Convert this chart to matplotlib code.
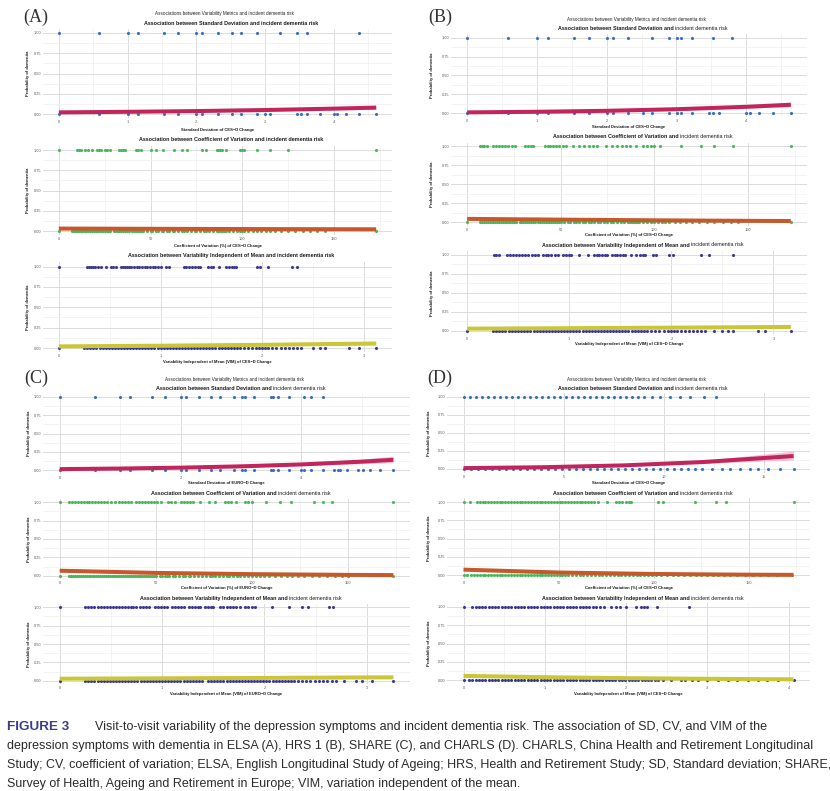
import matplotlib
matplotlib.use("Agg")
import matplotlib.pyplot as plt

# ---------------- data ----------------
# x positions of subjects with dementia (y = 1) and without (y = 0)
A1_x1 = [0, 0.58, 1.0, 1.15, 1.53, 1.73, 2.0, 2.08, 2.31, 2.52, 2.65, 2.88, 3.22, 3.47, 3.61, 4.37]
A1_x0 = [0, 0.58, 1.0, 1.15, 1.53, 1.73, 2.0, 2.08, 2.31, 2.52, 2.65, 2.88, 3.0, 3.07, 3.47, 3.52,
         3.61, 3.8, 4.0, 4.05, 4.18, 4.37, 4.62]
A1_fit_x = [0, 1, 2, 3, 4, 4.62]
A1_fit_y = [0.020, 0.027, 0.036, 0.049, 0.066, 0.079]
A1_fit_lo = [0.012, 0.019, 0.029, 0.040, 0.052, 0.058]
A1_fit_hi = [0.030, 0.036, 0.045, 0.060, 0.084, 0.105]

A2_x1 = [0, 10, 11, 12, 14, 16, 18, 21, 22, 23, 25, 26, 28, 33, 34, 35, 36, 42, 43, 45, 50, 53, 57,
         63, 67, 70, 78, 80, 86, 87, 88, 89, 91, 99, 100, 101, 108, 115, 125, 173]
A2_x0 = [0, 7, 8, 9, 10, 11, 12, 13, 14, 15, 16, 17, 18, 19, 20, 21, 22, 23, 24, 25, 26, 27, 28, 30,
         31, 32, 33, 34, 35, 36, 37, 38, 40, 41, 42, 43, 44, 45, 46, 48, 50, 51, 53, 54, 56, 57, 59,
         60, 62, 63, 65, 67, 68, 70, 72, 74, 75, 77, 79, 80, 82, 84, 86, 87, 88, 89, 90, 91, 93, 95,
         97, 99, 100, 101, 103, 106, 108, 110, 113, 115, 118, 121, 125, 129, 133, 137, 141, 145, 173]
A2_fit_x = [0, 50, 100, 150, 173]
A2_fit_y = [0.030, 0.027, 0.024, 0.022, 0.021]
A2_fit_lo = [0.024, 0.023, 0.019, 0.015, 0.013]
A2_fit_hi = [0.037, 0.032, 0.030, 0.031, 0.032]

A3_x1 = [0, 0.28, 0.30, 0.32, 0.34, 0.36, 0.38, 0.41, 0.46, 0.51, 0.53, 0.56, 0.61, 0.63, 0.65, 0.67,
         0.69, 0.71, 0.74, 0.77, 0.79, 0.82, 0.85, 0.87, 0.90, 0.93, 0.95, 0.97, 1.0, 1.05, 1.08,
         1.23, 1.25, 1.28, 1.31, 1.34, 1.37, 1.39, 1.47, 1.50, 1.52, 1.57, 1.64, 1.67, 1.70, 1.72,
         1.74, 1.95, 1.98, 2.06, 2.29, 2.34]
A3_x0 = [0, 0.25, 0.28, 0.31, 0.34, 0.37, 0.40, 0.43, 0.46, 0.49, 0.52, 0.55, 0.58, 0.61, 0.64, 0.67,
         0.70, 0.73, 0.76, 0.79, 0.82, 0.85, 0.88, 0.91, 0.94, 0.97, 1.00, 1.03, 1.06, 1.09, 1.12,
         1.15, 1.18, 1.21, 1.24, 1.27, 1.30, 1.33, 1.36, 1.39, 1.42, 1.45, 1.48, 1.51, 1.54, 1.57,
         1.60, 1.63, 1.66, 1.69, 1.72, 1.75, 1.78, 1.82, 1.86, 1.90, 1.94, 1.97, 2.00, 2.03, 2.06,
         2.10, 2.14, 2.18, 2.22, 2.26, 2.30, 2.34, 2.38, 2.50, 2.57, 2.62, 2.85, 2.95, 3.12]
A3_fit_x = [0, 1, 2, 3.12]
A3_fit_y = [0.020, 0.028, 0.039, 0.055]
A3_fit_lo = [0.014, 0.023, 0.031, 0.040]
A3_fit_hi = [0.028, 0.034, 0.048, 0.074]

B1_x1 = [0, 0.58, 1.0, 1.16, 1.53, 1.74, 2.0, 2.09, 2.31, 2.65, 2.90, 3.01, 3.07, 3.23, 3.52, 3.80]
B1_x0 = [0, 0.58, 1.0, 1.16, 1.53, 1.74, 2.0, 2.09, 2.31, 2.52, 2.65, 2.90, 3.01, 3.07, 3.23, 3.47,
         3.52, 3.61, 4.0, 4.05, 4.19, 4.38, 4.64]
B1_fit_x = [0, 1, 2, 3, 4, 4.64]
B1_fit_y = [0.012, 0.020, 0.033, 0.054, 0.086, 0.113]
B1_fit_lo = [0.008, 0.015, 0.026, 0.044, 0.068, 0.085]
B1_fit_hi = [0.018, 0.026, 0.041, 0.066, 0.108, 0.148]

B2_x1 = [7, 8, 9, 10.5, 14, 15.5, 17, 18.5, 20, 22, 24, 25.5, 31, 32.5, 34, 35, 41.5, 43, 44.5, 46,
         47.5, 49, 51, 53, 56.5, 60, 62.5, 65, 67, 69.5, 74, 77.5, 80, 83, 85, 87, 90, 94, 96, 98,
         100, 103, 114.5, 125, 132, 142, 173]
B2_x0 = [0, 7, 8, 9, 10, 11, 12, 13, 14, 15, 16, 17, 18, 19, 20, 21, 22, 23, 24, 25, 26, 28, 29, 30,
         31, 32, 33, 34, 35, 36, 38, 39, 40, 41, 42, 43, 44, 45, 46, 47, 48, 49, 50, 52, 54, 55, 57,
         58, 60, 62, 63, 65, 66, 68, 70, 71, 73, 75, 77, 78, 80, 82, 84, 86, 87, 88, 89, 90, 91, 92,
         94, 96, 98, 100, 102, 104, 106, 108, 111, 114, 117, 120, 124, 128, 132, 137, 141, 145, 173]
B2_fit_x = [0, 50, 100, 150, 173]
B2_fit_y = [0.045, 0.035, 0.026, 0.019, 0.017]
B2_fit_lo = [0.038, 0.031, 0.022, 0.013, 0.010]
B2_fit_hi = [0.053, 0.040, 0.031, 0.027, 0.027]

B3_x1 = [0.26, 0.28, 0.31, 0.39, 0.42, 0.45, 0.48, 0.51, 0.54, 0.57, 0.60, 0.63, 0.66, 0.69, 0.74,
         0.77, 0.79, 0.82, 0.86, 0.89, 0.94, 0.97, 1.0, 1.02, 1.10, 1.18, 1.24, 1.27, 1.29, 1.32,
         1.35, 1.37, 1.42, 1.45, 1.47, 1.50, 1.53, 1.55, 1.60, 1.65, 1.69, 1.72, 1.74, 1.82, 1.85,
         1.98, 2.02, 2.29, 2.37, 2.60]
B3_x0 = [0, 0.25, 0.28, 0.31, 0.34, 0.37, 0.41, 0.44, 0.47, 0.50, 0.53, 0.56, 0.59, 0.62, 0.65, 0.68,
         0.71, 0.74, 0.77, 0.80, 0.83, 0.86, 0.89, 0.92, 0.95, 0.98, 1.01, 1.04, 1.07, 1.10, 1.13,
         1.16, 1.19, 1.22, 1.25, 1.28, 1.31, 1.34, 1.37, 1.40, 1.43, 1.46, 1.49, 1.52, 1.55, 1.58,
         1.61, 1.64, 1.67, 1.70, 1.73, 1.76, 1.80, 1.84, 1.88, 1.93, 1.97, 2.00, 2.03, 2.06, 2.09,
         2.13, 2.17, 2.21, 2.25, 2.29, 2.33, 2.42, 2.50, 2.55, 2.60, 2.85, 2.92, 3.17]
B3_fit_x = [0, 1, 2, 3.17]
B3_fit_y = [0.027, 0.033, 0.040, 0.050]
B3_fit_lo = [0.020, 0.028, 0.033, 0.036]
B3_fit_hi = [0.036, 0.039, 0.049, 0.068]

C1_x1 = [0, 0.58, 1.0, 1.16, 1.53, 1.74, 2.0, 2.09, 2.31, 2.51, 2.65, 2.89, 3.02, 3.07, 3.22, 3.49,
         3.53, 3.61, 3.79, 4.04, 4.16, 4.35]
C1_x0 = [0, 0.58, 1.0, 1.16, 1.53, 1.74, 2.0, 2.09, 2.31, 2.51, 2.65, 2.89, 3.02, 3.07, 3.22, 3.49,
         3.53, 3.61, 3.79, 4.0, 4.04, 4.16, 4.35, 4.54, 4.61, 4.63, 4.75, 4.94, 5.02, 5.13, 5.30, 5.52]
C1_fit_x = [0, 1, 2, 3, 4, 5, 5.52]
C1_fit_y = [0.016, 0.024, 0.036, 0.054, 0.080, 0.118, 0.143]
C1_fit_lo = [0.011, 0.018, 0.029, 0.045, 0.066, 0.090, 0.104]
C1_fit_hi = [0.023, 0.031, 0.044, 0.064, 0.097, 0.153, 0.193]

C2_x1 = [0, 5, 6.5, 8, 9.5, 11, 12.5, 14, 15.5, 17, 18.5, 20, 21.5, 23, 24.5, 26.5, 29, 31, 32.5, 34,
         35.5, 37, 39.5, 41, 43, 44.5, 46, 47.5, 49, 50.5, 52.5, 56.5, 58, 60, 63, 64.5, 66, 68,
         69.5, 73, 77.5, 81, 86, 87.5, 89, 91.5, 96.5, 98, 100, 107.5, 114.5, 120.5, 132, 137,
         141.5, 173.5]
C2_x0 = [0, 5, 6, 7, 8, 9, 10, 11, 12, 13, 14, 15, 16, 17, 18, 19, 20, 21, 22, 23, 24, 25, 26, 27,
         28, 29, 30, 31, 32, 33, 34, 35, 36, 37, 38, 39, 40, 41, 42, 43, 44, 45, 46, 47, 48, 49, 50,
         52, 53, 55, 56, 57, 59, 60, 62, 64, 65, 67, 68, 70, 72, 74, 76, 78, 79, 81, 83, 85, 87, 88,
         90, 92, 94, 96, 98, 100, 102, 104, 106, 109, 112, 115, 118, 121, 124, 127, 131, 135, 139,
         143, 147, 150, 173.5]
C2_fit_x = [0, 50, 100, 150, 173.5]
C2_fit_y = [0.068, 0.038, 0.021, 0.011, 0.008]
C2_fit_lo = [0.058, 0.034, 0.017, 0.007, 0.004]
C2_fit_hi = [0.080, 0.043, 0.026, 0.017, 0.014]

C3_x1 = [0, 0.25, 0.28, 0.31, 0.34, 0.37, 0.40, 0.43, 0.46, 0.49, 0.52, 0.55, 0.58, 0.61, 0.64, 0.67,
         0.70, 0.72, 0.75, 0.78, 0.81, 0.84, 0.87, 0.93, 0.96, 0.99, 1.02, 1.05, 1.10, 1.13, 1.16,
         1.19, 1.21, 1.26, 1.29, 1.32, 1.35, 1.37, 1.42, 1.45, 1.48, 1.50, 1.57, 1.60, 1.63, 1.66,
         1.69, 1.72, 1.76, 1.81, 1.84, 1.88, 1.91, 2.07, 2.24, 2.37, 2.43, 2.63, 2.67]
C3_x0 = [0, 0.25, 0.28, 0.31, 0.34, 0.37, 0.40, 0.43, 0.46, 0.49, 0.52, 0.55, 0.58, 0.61, 0.64, 0.67,
         0.70, 0.73, 0.76, 0.79, 0.82, 0.85, 0.88, 0.91, 0.94, 0.97, 1.00, 1.03, 1.06, 1.09, 1.12,
         1.15, 1.18, 1.21, 1.24, 1.27, 1.30, 1.33, 1.36, 1.39, 1.45, 1.48, 1.51, 1.54, 1.57, 1.60,
         1.63, 1.66, 1.69, 1.72, 1.75, 1.78, 1.81, 1.84, 1.87, 1.90, 1.93, 1.96, 1.99, 2.02, 2.05,
         2.08, 2.11, 2.14, 2.17, 2.20, 2.23, 2.26, 2.29, 2.33, 2.37, 2.41, 2.45, 2.49, 2.53, 2.57,
         2.61, 2.66, 2.70, 2.78, 2.90, 2.95, 3.05, 3.26]
C3_fit_x = [0, 1, 2, 3.26]
C3_fit_y = [0.027, 0.032, 0.038, 0.046]
C3_fit_lo = [0.021, 0.028, 0.032, 0.034]
C3_fit_hi = [0.034, 0.037, 0.045, 0.062]

D1_x1 = [0, 0.3, 0.6, 0.9, 1.2, 1.5, 1.8, 2.1, 2.4, 2.7, 3.0, 3.3, 3.6, 3.9, 4.2, 4.5, 4.8, 5.1, 5.4,
         5.7, 6.0, 6.3, 6.6, 6.9, 7.2, 7.5, 7.8, 8.1, 8.4, 8.7, 9.0, 9.4, 9.8, 10.3, 10.8, 11.3,
         12.0, 12.6]
D1_x0 = [0, 0.35, 0.7, 1.05, 1.4, 1.75, 2.1, 2.45, 2.8, 3.15, 3.5, 3.85, 4.2, 4.55, 4.9, 5.25, 5.6,
         5.95, 6.3, 6.65, 7.0, 7.35, 7.7, 8.05, 8.4, 8.75, 9.1, 9.45, 9.8, 10.15, 10.5, 10.85, 11.2,
         11.55, 11.9, 12.4, 12.9, 13.3, 13.8, 14.3, 14.7, 15.2, 15.8, 16.5]
D1_fit_x = [0, 4, 8, 12, 16.5]
D1_fit_y = [0.012, 0.025, 0.050, 0.097, 0.180]
D1_fit_lo = [0.009, 0.021, 0.043, 0.078, 0.125]
D1_fit_hi = [0.016, 0.030, 0.058, 0.120, 0.250]

D2_x1 = [0, 3.5, 7, 8.5, 10, 11.5, 13, 14.5, 16, 17.5, 19, 20.5, 22, 23.5, 25, 26.5, 28, 29.5, 31,
         32.5, 34, 35.5, 37, 38.5, 40, 41.5, 43, 44.5, 46, 47.5, 49, 50.5, 52, 53.5, 55, 56.5, 58,
         59.5, 61, 62.5, 64, 65.5, 67, 68.5, 70.5, 75.5, 80, 82, 83.5, 85.5, 87, 88, 102, 105,
         121.5, 132.5, 138, 173.5]
D2_x0 = [0, 2, 4, 5.5, 7, 8.5, 10, 11.5, 13, 14.5, 16, 17.5, 19, 20.5, 22, 23.5, 25, 26.5, 28, 29.5,
         31, 32.5, 34, 35.5, 37, 38.5, 40, 41.5, 43, 44.5, 46, 47.5, 49, 50.5, 52, 53.5, 55, 57, 59,
         61, 63, 65, 67, 69, 71, 73, 75, 77, 79, 81, 83, 85, 87, 89, 91, 93, 95, 97, 99, 101, 104,
         107, 110, 113, 116, 119, 122, 125, 128, 131, 134, 137, 140, 144, 148, 152, 156, 160, 165,
         172.5]
D2_fit_x = [0, 50, 100, 150, 173.5]
D2_fit_y = [0.077, 0.038, 0.018, 0.008, 0.006]
D2_fit_lo = [0.070, 0.035, 0.015, 0.005, 0.003]
D2_fit_hi = [0.085, 0.041, 0.022, 0.012, 0.010]

D3_x1 = [0, 0.11, 0.15, 0.19, 0.23, 0.27, 0.31, 0.35, 0.39, 0.43, 0.47, 0.51, 0.55, 0.59, 0.63, 0.67,
         0.71, 0.75, 0.79, 0.83, 0.87, 0.91, 0.95, 0.99, 1.03, 1.07, 1.11, 1.15, 1.19, 1.23, 1.27,
         1.31, 1.35, 1.39, 1.43, 1.47, 1.51, 1.55, 1.59, 1.63, 1.68, 1.73, 1.81, 1.88, 1.92, 2.00,
         2.12, 2.18, 2.22, 2.26, 2.38, 2.78]
D3_x0 = [0, 0.07, 0.11, 0.15, 0.19, 0.23, 0.27, 0.31, 0.35, 0.39, 0.43, 0.47, 0.51, 0.55, 0.59, 0.63,
         0.67, 0.71, 0.75, 0.79, 0.83, 0.87, 0.91, 0.95, 0.99, 1.03, 1.07, 1.11, 1.15, 1.19, 1.23,
         1.27, 1.31, 1.35, 1.39, 1.43, 1.47, 1.51, 1.55, 1.59, 1.63, 1.67, 1.71, 1.75, 1.79, 1.83,
         1.87, 1.91, 1.95, 1.99, 2.03, 2.07, 2.11, 2.15, 2.19, 2.23, 2.27, 2.31, 2.35, 2.39, 2.46,
         2.55, 2.67, 2.73, 2.81, 2.89, 2.99, 3.13, 3.26, 3.36, 3.50, 3.62, 3.74, 3.87, 4.06]
D3_fit_x = [0, 1, 2, 3, 4.06]
D3_fit_y = [0.060, 0.042, 0.029, 0.020, 0.013]
D3_fit_lo = [0.052, 0.038, 0.025, 0.014, 0.008]
D3_fit_hi = [0.069, 0.047, 0.034, 0.028, 0.022]

y_ticks = [0, 0.25, 0.5, 0.75, 1.0]
y_tick_labels = ['0.00', '0.25', '0.50', '0.75', '1.00']
sd_ticks_4 = [0, 1, 2, 3, 4]
sd_ticks_c = [0, 2, 4]
sd_ticks_d = [0, 5, 10, 15]
cv_ticks = [0, 50, 100, 150]
vim_ticks_3 = [0, 1, 2, 3]
vim_ticks_4 = [0, 1, 2, 3, 4]

title_sd = ("Association between Standard Deviation and", "incident dementia risk")
title_cv = ("Association between Coefficient of Variation and", "incident dementia risk")
title_vim = ("Association between Variability Independent of Mean and", "incident dementia risk")
suptitle = "Associations between Variability Metrics and incident dementia risk"

caption_head = "FIGURE 3"
caption_lines = [
    "Visit-to-visit variability of the depression symptoms and incident dementia risk. The association of SD, CV, and VIM of the",
    "depression symptoms with dementia in ELSA (A), HRS 1 (B), SHARE (C), and CHARLS (D). CHARLS, China Health and Retirement Longitudinal",
    "Study; CV, coefficient of variation; ELSA, English Longitudinal Study of Ageing; HRS, Health and Retirement Study; SD, Standard deviation; SHARE,",
    "Survey of Health, Ageing and Retirement in Europe; VIM, variation independent of the mean.",
]

# colours
SD_PT, CV_PT, VIM_PT = '#3a6ec0', '#46b85a', '#3b3a9a'
SD_LINE, CV_LINE, VIM_LINE = '#c2255c', '#c6582c', '#c9c736'
SD_BAND, CV_BAND, VIM_BAND = '#eaa0bb', '#e8b090', '#e4e28c'

# ---------------- figure ----------------
W, H = 830, 791
plt.rcParams['font.family'] = ['Liberation Sans', 'DejaVu Sans']
fig = plt.figure(figsize=(W / 100, H / 100), dpi=100)
fig.patch.set_facecolor('white')
renderer = fig.canvas.get_renderer()


def fx(x):
    return x / W


def fy(y):
    return 1 - y / H


def two_part_title(cx, y, bold, normal, size, all_bold=False):
    parts = [fig.text(0, fy(y), bold, fontsize=size, fontweight='bold', color='#1a1a1a',
                      va='center', ha='left')]
    parts.append(fig.text(0, fy(y), normal, fontsize=size, color='#1a1a1a', va='center', ha='left',
                          fontweight='bold' if all_bold else 'normal'))
    widths = [t.get_window_extent(renderer).width for t in parts]
    gap = 1.3
    left = cx - (sum(widths) + gap) / 2
    for t, w in zip(parts, widths):
        t.set_x(fx(left))
        left += w + gap


def draw_sub(x0, x1, y_one, y_zero, title_y, xlabel_y, ylab_x,
             xs1, xs0, fit_x, fit_y, fit_lo, fit_hi, ticks, xlabel, title, colors, all_bold):
    pt, line, band = colors
    unit = y_zero - y_one
    top = y_one - 0.05 * unit
    bottom = y_zero + 0.05 * unit
    ax = fig.add_axes([fx(x0), fy(bottom), (x1 - x0) / W, (bottom - top) / H])
    xmax = max(xs1 + xs0)
    ax.set_xlim(-0.05 * xmax, 1.05 * xmax)
    ax.set_ylim(-0.05, 1.05)

    step = ticks[1] - ticks[0]
    minor = [t + step / 2 for t in ticks if t + step / 2 < 1.05 * xmax]
    ax.set_xticks(ticks)
    ax.set_xticks(minor, minor=True)
    ax.set_yticks(y_ticks)
    ax.set_yticklabels(y_tick_labels)
    ax.set_yticks([0.125, 0.375, 0.625, 0.875], minor=True)
    ax.grid(True, which='major', color='#dcdcdc', lw=0.7)
    ax.grid(True, which='minor', color='#efefef', lw=0.5)
    ax.set_axisbelow(True)
    for s in ax.spines.values():
        s.set_visible(False)
    ax.tick_params(which='both', length=0, labelsize=2.8, labelcolor='#5a5a5a', pad=1.5)

    ax.scatter(xs1, [1] * len(xs1), s=5, color=pt, lw=0, zorder=2)
    ax.scatter(xs0, [0] * len(xs0), s=5, color=pt, lw=0, zorder=2)
    ax.fill_between(fit_x, fit_lo, fit_hi, color=band, alpha=0.6, lw=0, zorder=3)
    ax.plot(fit_x, fit_y, color=line, lw=2.9, zorder=4, solid_capstyle='butt')

    cx = (x0 + x1) / 2
    fig.text(fx(cx), fy(xlabel_y), xlabel, fontsize=3.0, fontweight='bold', color='#1a1a1a',
             ha='center', va='center')
    fig.text(fx(ylab_x), fy((top + bottom) / 2), 'Probability of dementia', fontsize=3.0,
             fontweight='bold', color='#1a1a1a', rotation=90, ha='center', va='center')
    two_part_title(cx + 14, title_y, title[0], title[1], 3.9, all_bold)


sd = (SD_PT, SD_LINE, SD_BAND)
cv = (CV_PT, CV_LINE, CV_BAND)
vim = (VIM_PT, VIM_LINE, VIM_BAND)

# panel (A) ELSA
draw_sub(43, 392, 33, 114, 23.5, 129.5, 28, A1_x1, A1_x0, A1_fit_x, A1_fit_y, A1_fit_lo, A1_fit_hi,
         sd_ticks_4, "Standard Deviation of CES\u2212D Change", title_sd, sd, True)
draw_sub(43, 392, 150, 231, 139.5, 246, 28, A2_x1, A2_x0, A2_fit_x, A2_fit_y, A2_fit_lo, A2_fit_hi,
         cv_ticks, "Coefficient of Variation (%) of CES\u2212D Change", title_cv, cv, True)
draw_sub(43, 392, 266.5, 348, 255.5, 362.5, 28, A3_x1, A3_x0, A3_fit_x, A3_fit_y, A3_fit_lo, A3_fit_hi,
         vim_ticks_3, "Variability Independent of Mean (VIM) of CES\u2212D Change", title_vim, vim, True)

# panel (B) HRS
draw_sub(451, 807, 37.7, 113.3, 28.3, 126.7, 432, B1_x1, B1_x0, B1_fit_x, B1_fit_y, B1_fit_lo, B1_fit_hi,
         sd_ticks_4, "Standard Deviation of CES\u2212D Change", title_sd, sd, False)
draw_sub(451, 807, 146.3, 222.3, 137, 235, 432, B2_x1, B2_x0, B2_fit_x, B2_fit_y, B2_fit_lo, B2_fit_hi,
         cv_ticks, "Coefficient of Variation (%) of CES\u2212D Change", title_cv, cv, False)
draw_sub(451, 807, 255, 330.7, 245, 344, 432, B3_x1, B3_x0, B3_fit_x, B3_fit_y, B3_fit_lo, B3_fit_hi,
         vim_ticks_3, "Variability Independent of Mean (VIM) of CES\u2212D Change", title_vim, vim, False)

# panel (C) SHARE
draw_sub(43, 410, 397, 470.3, 388.3, 483, 29, C1_x1, C1_x0, C1_fit_x, C1_fit_y, C1_fit_lo, C1_fit_hi,
         sd_ticks_c, "Standard Deviation of EURO\u2212D Change", title_sd, sd, False)
draw_sub(43, 410, 502.3, 575.7, 493.7, 588.3, 29, C2_x1, C2_x0, C2_fit_x, C2_fit_y, C2_fit_lo, C2_fit_hi,
         cv_ticks, "Coefficient of Variation (%) of EURO\u2212D Change", title_cv, cv, False)
draw_sub(43, 410, 607.3, 680.7, 598.3, 694, 29, C3_x1, C3_x0, C3_fit_x, C3_fit_y, C3_fit_lo, C3_fit_hi,
         vim_ticks_3, "Variability Independent of Mean (VIM) of EURO\u2212D Change", title_vim, vim, False)

# panel (D) CHARLS
draw_sub(447, 810, 397, 469, 388, 483, 429, D1_x1, D1_x0, D1_fit_x, D1_fit_y, D1_fit_lo, D1_fit_hi,
         sd_ticks_d, "Standard Deviation of CES\u2212D Change", title_sd, sd, False)
draw_sub(447, 810, 502, 575.3, 493.3, 588, 429, D2_x1, D2_x0, D2_fit_x, D2_fit_y, D2_fit_lo, D2_fit_hi,
         cv_ticks, "Coefficient of Variation (%) of CES\u2212D Change", title_cv, cv, False)
draw_sub(447, 810, 606.7, 680.3, 598.7, 694, 429, D3_x1, D3_x0, D3_fit_x, D3_fit_y, D3_fit_lo, D3_fit_hi,
         vim_ticks_4, "Variability Independent of Mean (VIM) of CES\u2212D Change", title_vim, vim, False)

# suptitles and panel letters
for cx, y in [(224, 14), (636, 19), (234, 379.7), (636, 379.5)]:
    fig.text(fx(cx), fy(y), suptitle, fontsize=3.3, color='#222222', ha='center', va='center')
for letter, cx, y in [("(A)", 36, 17), ("(B)", 440, 17), ("(C)", 36, 378), ("(D)", 440, 378)]:
    fig.text(fx(cx), fy(y), letter, fontsize=13, color='#333333', ha='center', va='center',
             family=['Liberation Serif', 'DejaVu Serif'])

# caption, sized so the widest line spans the page like the original
cap_font = ['Liberation Sans', 'DejaVu Sans']
probe = fig.text(0, 0, caption_lines[2], fontsize=10, family=cap_font)
cap_size = 10 * 821 / probe.get_window_extent(renderer).width
probe.remove()
head_size = cap_size * 1.08

fig.text(fx(7), fy(727), caption_head, fontsize=head_size, fontweight='bold', color='#3d3b8e',
         family=cap_font, ha='left', va='center')
fig.text(fx(95), fy(727), caption_lines[0], fontsize=cap_size, color='#2b2b2b',
         family=cap_font, ha='left', va='center')
for line, y in zip(caption_lines[1:], [746, 765, 784]):
    fig.text(fx(7), fy(y), line, fontsize=cap_size, color='#2b2b2b', family=cap_font,
             ha='left', va='center')

fig.savefig('out.png', dpi=100, facecolor='white')
